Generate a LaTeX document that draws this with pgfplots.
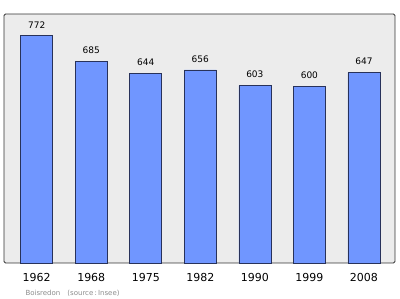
\documentclass[border=0pt]{standalone}
\usepackage{pgfplots}
\pgfplotsset{compat=1.18}
\usepackage{fontspec}
\setmainfont{DejaVu Sans}
\definecolor{barfill}{RGB}{112,150,255}
\definecolor{barline}{RGB}{40,50,90}
\definecolor{plotbg}{RGB}{236,236,236}
\definecolor{srcgray}{RGB}{140,140,140}
\begin{document}
\begin{tikzpicture}[x=1pt,y=1pt]
\useasboundingbox (-4,-36) rectangle (396,263);
\begin{axis}[
  at={(0,0)}, anchor=south west,
  scale only axis, width=391pt, height=249pt,
  xmin=-0.6, xmax=6.57, ymin=0, ymax=846,
  /pgf/number format/assume math mode=true,
  axis background/.style={fill=plotbg},
  axis line style={draw=black!80, line width=0.8pt, rounded corners=1.5pt},
  xtick=data,
  xticklabels={1962,1968,1975,1982,1990,1999,2008},
  xticklabel style={font=\fontsize{11}{13}\selectfont, yshift=-7pt},
  major tick length=0pt,
  ytick=\empty,
  ybar, bar width=32pt,
  nodes near coords,
  nodes near coords style={font=\fontsize{9}{11}\selectfont, yshift=4pt},
  clip=false,
]
\addplot[fill=barfill, draw=barline, line width=0.6pt] coordinates {
  (0,772) (1,685) (2,644) (3,656) (4,603) (5,600) (6,647)
};
\end{axis}
\node[anchor=west, font=\fontsize{7}{8}\selectfont, text=srcgray] at (18,-30) {Boisredon\quad(source\,:\,Insee)};
\end{tikzpicture}
\end{document}
